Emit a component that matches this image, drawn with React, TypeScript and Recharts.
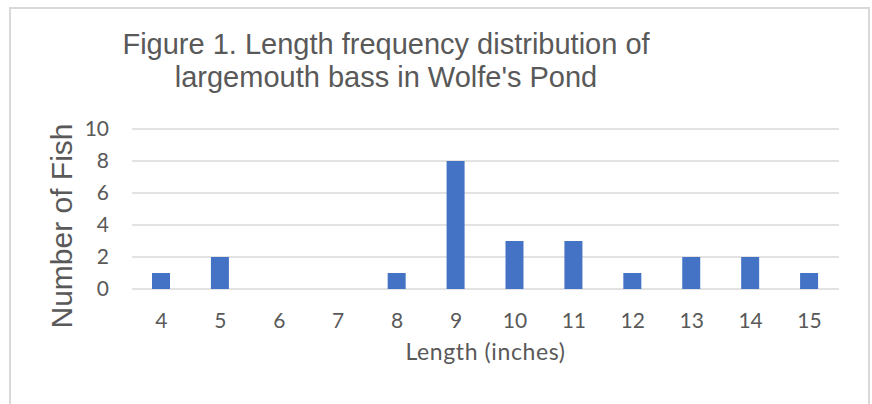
import { Bar, BarChart, CartesianGrid, XAxis, YAxis } from "recharts";

const lengths = ["4", "5", "6", "7", "8", "9", "10", "11", "12", "13", "14", "15"];
const fishCounts = [1, 2, 0, 0, 1, 8, 3, 3, 1, 2, 2, 1];
const yTicks = [0, 2, 4, 6, 8, 10];

const titleLines = [
  "Figure 1. Length frequency distribution of",
  "largemouth bass in Wolfe's Pond",
];

const rows = lengths.map((len, i) => ({ length: len, count: fishCounts[i] }));

const gray = "#595959";
const tickFont = "Lato, 'Open Sans', sans-serif";
const titleFont = "'Liberation Sans', Arial, sans-serif";

export default function App() {
  return (
    <div
      style={{
        position: "absolute",
        left: 0,
        top: 0,
        width: 872,
        height: 404,
        background: "#fff",
        overflow: "hidden",
      }}
    >
      {/* chart frame, bottom edge is cut off in the original */}
      <div
        style={{
          position: "absolute",
          left: 9,
          top: 7,
          width: 857,
          height: 420,
          border: "2px solid #d9d9d9",
        }}
      />
      <div
        style={{
          position: "absolute",
          left: 0,
          width: 772,
          top: 28,
          textAlign: "center",
          fontFamily: titleFont,
          fontSize: 29,
          lineHeight: "33px",
          color: gray,
        }}
      >
        {titleLines.map((t) => (
          <div key={t}>{t}</div>
        ))}
      </div>
      <BarChart
        width={872}
        height={404}
        data={rows}
        margin={{ top: 129, right: 33, left: 0, bottom: 0 }}
        style={{ position: "absolute", left: 0, top: 0 }}
      >
        <CartesianGrid vertical={false} stroke="#d9d9d9" strokeWidth={1.5} />
        <XAxis
          dataKey="length"
          height={115}
          axisLine={false}
          tickLine={false}
          tickSize={0}
          tickMargin={24}
          tick={{ fill: gray, fontSize: 21, fontFamily: tickFont }}
          label={{
            value: "Length (inches)",
            position: "insideBottom",
            offset: 44,
            fill: gray,
            fontSize: 23,
            letterSpacing: 0.6,
            fontFamily: tickFont,
          }}
        />
        <YAxis
          width={132}
          domain={[0, 10]}
          ticks={yTicks}
          axisLine={false}
          tickLine={false}
          tickSize={0}
          tickMargin={23}
          tick={{ fill: gray, fontSize: 21, fontFamily: tickFont }}
          label={{
            value: "Number of Fish",
            angle: -90,
            position: "insideLeft",
            content: (props: any) => {
              const vb = props.viewBox;
              const cx = vb.x + 61;
              const cy = vb.y + vb.height / 2 + 17;
              return (
                <text
                  x={cx}
                  y={cy}
                  transform={`rotate(-90 ${cx} ${cy})`}
                  textAnchor="middle"
                  dominantBaseline="central"
                  fill={gray}
                  fontSize={30}
                  fontFamily={titleFont}
                >
                  Number of Fish
                </text>
              );
            },
          }}
        />
        <Bar dataKey="count" fill="#4472c4" barSize={18} isAnimationActive={false} />
      </BarChart>
    </div>
  );
}
